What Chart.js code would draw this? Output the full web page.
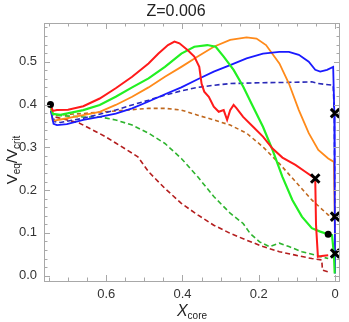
<!DOCTYPE html>
<html>
<head>
<meta charset="utf-8">
<script src="https://cdn.jsdelivr.net/npm/chart.js@4/dist/chart.umd.min.js"></script>
<style>
  html, body { margin: 0; padding: 0; background: #fff; }
  #wrap { width: 349px; height: 322px; position: relative; }
</style>
</head>
<body>
<div id="wrap"><canvas id="c"></canvas></div>
<script>
// Werte (x = X_core, y = V_eq/V_crit)
const redX = [0.746,0.74,0.729,0.70,0.66,0.617,0.575,0.532,0.489,0.463,0.438,0.421,0.408,0.386,0.369,0.356,0.350,0.343,0.331,0.318,0.305,0.292,0.283,0.275,0.266,0.258,0.241,0.215,0.189,0.164,0.138,0.104,0.078,0.052,0.050,0.045,0.035,0.018];
const redY = [0.400,0.385,0.387,0.388,0.396,0.414,0.438,0.465,0.496,0.519,0.539,0.547,0.543,0.527,0.512,0.488,0.449,0.430,0.418,0.395,0.383,0.387,0.364,0.387,0.399,0.391,0.371,0.348,0.325,0.297,0.276,0.259,0.243,0.227,0.120,0.044,0.046,0.048];

const greenX = [0.745,0.74,0.72,0.66,0.617,0.575,0.532,0.489,0.446,0.403,0.369,0.335,0.313,0.292,0.266,0.241,0.215,0.189,0.164,0.138,0.112,0.087,0.061,0.039,0.018,0.008,0.003,0.001];
const greenY = [0.395,0.378,0.376,0.387,0.399,0.418,0.440,0.461,0.488,0.519,0.535,0.539,0.535,0.512,0.481,0.442,0.395,0.348,0.294,0.231,0.177,0.138,0.111,0.103,0.097,0.095,0.050,0.005];

const orangeX = [0.745,0.74,0.72,0.66,0.617,0.575,0.532,0.489,0.446,0.403,0.36,0.318,0.275,0.232,0.206,0.181,0.146,0.121,0.095,0.069,0.044,0.018,0.003,0.001,0.0];
const orangeY = [0.390,0.362,0.365,0.375,0.383,0.399,0.418,0.440,0.465,0.488,0.512,0.535,0.551,0.557,0.554,0.539,0.496,0.449,0.387,0.333,0.294,0.274,0.266,0.150,0.060];

const blueX = [0.745,0.738,0.729,0.703,0.66,0.617,0.575,0.532,0.489,0.446,0.403,0.36,0.318,0.275,0.232,0.189,0.146,0.121,0.095,0.069,0.052,0.039,0.021,0.005,0.002,0.001,0.0];
const blueY = [0.385,0.355,0.352,0.354,0.364,0.371,0.379,0.391,0.407,0.424,0.440,0.459,0.477,0.492,0.508,0.519,0.523,0.523,0.516,0.500,0.481,0.477,0.481,0.488,0.380,0.200,0.005];

const blueDashX = [0.745,0.735,0.72,0.66,0.575,0.532,0.489,0.446,0.403,0.36,0.318,0.275,0.189,0.104,0.061,0.044,0.005,0.002,0.0];
const blueDashY = [0.385,0.360,0.358,0.368,0.387,0.399,0.410,0.422,0.432,0.440,0.445,0.449,0.451,0.452,0.453,0.449,0.445,0.380,0.050];

const brownDashX = [0.745,0.735,0.66,0.575,0.489,0.446,0.403,0.36,0.318,0.275,0.232,0.189,0.146,0.104,0.061,0.018,0.003,0.0];
const brownDashY = [0.385,0.375,0.379,0.385,0.391,0.391,0.387,0.375,0.364,0.352,0.333,0.301,0.262,0.220,0.177,0.142,0.138,0.138];

const greenDashX = [0.745,0.735,0.66,0.617,0.575,0.532,0.489,0.446,0.403,0.36,0.318,0.275,0.241,0.223,0.198,0.172,0.146,0.121,0.087,0.052,0.018];
const greenDashY = [0.385,0.375,0.371,0.371,0.364,0.352,0.333,0.309,0.274,0.231,0.185,0.146,0.122,0.099,0.079,0.068,0.076,0.068,0.056,0.048,0.040];

const redDashX = [0.745,0.735,0.671,0.602,0.575,0.517,0.489,0.446,0.403,0.36,0.318,0.275,0.232,0.189,0.146,0.104,0.061,0.035,0.033,0.018];
const redDashY = [0.385,0.371,0.357,0.325,0.310,0.278,0.243,0.204,0.169,0.142,0.118,0.099,0.083,0.068,0.056,0.048,0.040,0.037,0.013,0.009];

const dotX = [0.746, 0.018];
const dotY = [0.400, 0.097];
const crossX = [0.052, 0.0, 0.0, 0.0];
const crossY = [0.227, 0.380, 0.138, 0.052];

const xTicks = [0, 0.2, 0.4, 0.6];
const yTicks = [0, 0.1, 0.2, 0.3, 0.4, 0.5];

const pts = (xs, ys) => xs.map((x, i) => ({ x, y: ys[i] }));

const linie = (xs, ys, farbe, breite, dash) => ({
  data: pts(xs, ys), showLine: true, borderColor: farbe, borderWidth: breite,
  borderDash: dash || [], pointRadius: 0, fill: false, tension: 0,
});

// innen liegende Ticks + grauer Rahmen wie bei Mathematica
const rahmen = {
  id: 'rahmen',
  afterDatasetsDraw(chart) {
    const { ctx, chartArea: a, scales: { x, y } } = chart;
    ctx.save();
    ctx.strokeStyle = '#a8a8a8';
    ctx.lineWidth = 1;
    ctx.beginPath();
    for (let i = -2; i <= 76; i++) {
      if (i % 5 !== 0) continue;
      const px = Math.round(x.getPixelForValue(i * 0.01)) + 0.5;
      if (px < a.left || px > a.right) continue;
      const len = i % 20 === 0 ? 6 : 3.5;
      ctx.moveTo(px, a.bottom); ctx.lineTo(px, a.bottom - len);
      ctx.moveTo(px, a.top); ctx.lineTo(px, a.top + len);
    }
    for (let i = 0; i <= 29; i++) {
      const py = Math.round(y.getPixelForValue(i * 0.02)) + 0.5;
      if (py < a.top || py > a.bottom) continue;
      const len = i % 5 === 0 ? 6 : 3.5;
      ctx.moveTo(a.left, py); ctx.lineTo(a.left + len, py);
      ctx.moveTo(a.right, py); ctx.lineTo(a.right - len, py);
    }
    ctx.stroke();
    ctx.strokeRect(Math.round(a.left) + 0.5, Math.round(a.top) + 0.5, Math.round(a.right - a.left) - 1, Math.round(a.bottom - a.top));
    ctx.restore();
  },
  afterDraw(chart) {
    const { ctx, chartArea: a } = chart;
    const fam = ' "Liberation Sans", Arial, sans-serif';
    ctx.save();
    ctx.fillStyle = '#222';
    ctx.textBaseline = 'alphabetic';
    // Titel
    ctx.font = '16px' + fam;
    ctx.textAlign = 'center';
    ctx.fillText('Z=0.006', 176, 16);
    // x-Achsentitel X_core
    ctx.textAlign = 'left';
    const big = 'italic 16px' + fam;
    const small = '10px' + fam;
    ctx.font = big; const wX = ctx.measureText('X').width;
    ctx.font = small; const wC = ctx.measureText('core').width;
    const sx = (a.left + a.right) / 2 - (wX + wC) / 2;
    ctx.font = big; ctx.fillText('X', sx, 316);
    ctx.font = small; ctx.fillText('core', sx + wX, 319);
    // y-Achsentitel V_eq/V_crit
    const teile = [['V', '15px'], ['eq', '10px'], ['/V', '15px'], ['crit', '10px']];
    ctx.translate(17, 160);
    ctx.rotate(-Math.PI / 2);
    let total = 0;
    const breiten = teile.map(([t, s]) => { ctx.font = s + fam; const w = ctx.measureText(t).width; total += w; return w; });
    let pos = -total / 2;
    teile.forEach(([t, s], i) => {
      ctx.font = s + fam;
      ctx.fillText(t, pos, s === '10px' ? 3 : 0);
      pos += breiten[i];
    });
    ctx.restore();
  },
};

const tickFont = { family: '"Liberation Sans", Arial, sans-serif', size: 13 };

new Chart(document.getElementById('c'), {
  type: 'scatter',
  data: {
    datasets: [
      { data: pts(crossX, crossY), pointStyle: 'crossRot', pointRadius: 6, borderColor: '#000', borderWidth: 3, showLine: false },
      { data: pts(dotX, dotY), pointStyle: 'circle', pointRadius: 3.5, backgroundColor: '#000', borderColor: '#000', borderWidth: 0, showLine: false },
      linie(redX, redY, '#ff1a1a', 2),
      linie(greenX, greenY, '#22f022', 2.2),
      linie(blueX, blueY, '#1a1aff', 1.8),
      linie(orangeX, orangeY, '#ff8a1a', 1.8),
      linie(blueDashX, blueDashY, '#2a2ab8', 1.6, [5, 3]),
      linie(brownDashX, brownDashY, '#c0681e', 1.6, [4, 3]),
      linie(greenDashX, greenDashY, '#2eb42e', 1.6, [5, 3]),
      linie(redDashX, redDashY, '#b41e1e', 1.6, [5, 3]),
    ],
  },
  options: {
    responsive: true,
    maintainAspectRatio: false,
    animation: false,
    layout: { padding: { top: 23, right: 1, left: 0, bottom: 0 } },
    plugins: { legend: { display: false }, tooltip: { enabled: false } },
    scales: {
      x: {
        type: 'linear', reverse: true, min: -0.0129, max: 0.763,
        grid: { display: false, drawTicks: false, tickLength: 0 }, border: { display: false },
        afterBuildTicks: (s) => { s.ticks = xTicks.map((v) => ({ value: v })); },
        afterFit: (s) => { s.height = 41; s.paddingLeft = 0; s.paddingRight = 0; },
        ticks: { color: '#333', font: tickFont, padding: 6, maxRotation: 0, callback: (v) => (v === 0 ? '0' : v.toFixed(1)) },
      },
      y: {
        type: 'linear', min: -0.0124, max: 0.5905,
        grid: { display: false, drawTicks: false, tickLength: 0 }, border: { display: false },
        afterBuildTicks: (s) => { s.ticks = yTicks.map((v) => ({ value: v })); },
        afterFit: (s) => { s.width = 44; s.paddingTop = 0; s.paddingBottom = 0; },
        ticks: { color: '#333', font: tickFont, padding: 7, callback: (v) => v.toFixed(1) },
      },
    },
  },
  plugins: [rahmen],
});
</script>
</body>
</html>
